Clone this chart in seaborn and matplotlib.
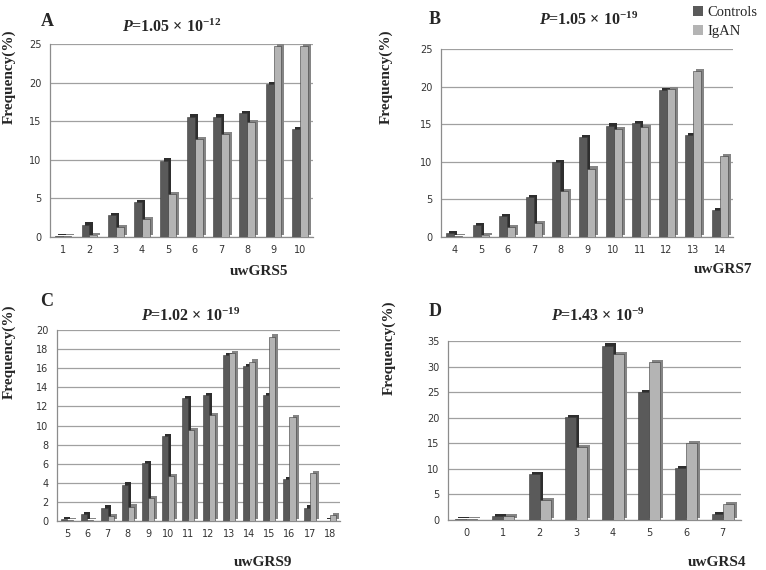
import numpy as np
import pandas as pd
import matplotlib
matplotlib.use("Agg")
import matplotlib.pyplot as plt
import matplotlib.patheffects as pe
from matplotlib.patches import Patch
import seaborn as sns

# ---------------- data ----------------
groups = ["Controls", "IgAN"]

a_scores = [1, 2, 3, 4, 5, 6, 7, 8, 9, 10]
a_controls = [0.1, 1.6, 2.8, 4.5, 9.9, 15.6, 15.6, 16.0, 19.8, 14.0]
a_igan = [0.1, 0.2, 1.3, 2.3, 5.6, 12.7, 13.3, 14.9, 24.8, 24.7]

b_scores = [4, 5, 6, 7, 8, 9, 10, 11, 12, 13, 14]
b_controls = [0.5, 1.6, 2.8, 5.3, 10.0, 13.3, 14.8, 15.1, 19.5, 13.5, 3.6]
b_igan = [0.1, 0.2, 1.3, 1.8, 6.1, 9.1, 14.3, 14.6, 19.7, 22.1, 10.8]

c_scores = [5, 6, 7, 8, 9, 10, 11, 12, 13, 14, 15, 16, 17, 18]
c_controls = [0.2, 0.7, 1.4, 3.8, 6.1, 8.9, 12.9, 13.2, 17.4, 16.2, 13.2, 4.4, 1.4, 0.05]
c_igan = [0.1, 0.1, 0.5, 1.5, 2.4, 4.7, 9.5, 11.1, 17.6, 16.7, 19.3, 10.9, 5.0, 0.6]

d_scores = [0, 1, 2, 3, 4, 5, 6, 7]
d_controls = [0.1, 0.8, 8.9, 20.1, 34.1, 25.0, 10.2, 1.2]
d_igan = [0.1, 0.8, 3.9, 14.2, 32.5, 30.8, 15.1, 3.1]

panel_letters = ["A", "B", "C", "D"]
x_labels = ["uwGRS5", "uwGRS7", "uwGRS9", "uwGRS4"]
p_mant = ["1.05", "1.05", "1.02", "1.43"]
p_exp = ["-12", "-19", "-19", "-9"]
y_ticks = [list(range(0, 26, 5)), list(range(0, 26, 5)),
           list(range(0, 21, 2)), list(range(0, 36, 5))]

# ---------------- style ----------------
sns.set_theme(style="white")
plt.rcParams["mathtext.fontset"] = "custom"
plt.rcParams["mathtext.rm"] = "Liberation Serif:bold"
plt.rcParams["mathtext.bf"] = "Liberation Serif:bold"
plt.rcParams["mathtext.it"] = "Liberation Serif:bold:italic"

col_dark = "#5a5a5a"
col_light = "#b4b4b4"
side_dark = "#2e2e2e"
side_light = "#858585"
palette = {"Controls": col_dark, "IgAN": col_light}
serif = "Liberation Serif"

W, H = 766, 570
fig = plt.figure(figsize=(W / 100, H / 100), dpi=100)


def fx(px):
    return px / W


def fy(py):
    return 1 - py / H


# axes boxes in pixel coords: left, top, right, bottom
boxes = [(50, 44, 313, 237), (441, 49, 733, 237),
         (57, 330, 340, 521), (448, 341, 741, 520)]
ylab_pos = [(9, 77), (386, 77), (9, 352), (389, 348)]
title_pos = [(172, 27), (589, 20), (191, 316), (598, 316)]
letter_pos = [(47, 22), (435, 20), (47, 302), (435, 311)]
xlab_pos = [(259, 272), (723, 270), (263, 563), (717, 563)]

datasets = [(a_scores, a_controls, a_igan), (b_scores, b_controls, b_igan),
            (c_scores, c_controls, c_igan), (d_scores, d_controls, d_igan)]

for i, (scores, ctrl, igan) in enumerate(datasets):
    l, t, r, b = boxes[i]
    ax = fig.add_axes([fx(l), fy(b), fx(r) - fx(l), fy(t) - fy(b)])
    df = pd.DataFrame({
        "score": [str(s) for s in scores] * 2,
        "freq": list(ctrl) + list(igan),
        "group": ["Controls"] * len(scores) + ["IgAN"] * len(scores),
    })
    sns.barplot(data=df, x="score", y="freq", hue="group", hue_order=groups,
                order=[str(s) for s in scores], palette=palette, width=0.6,
                ax=ax, legend=False, saturation=1, edgecolor="#3a3a3a",
                linewidth=0.4, zorder=3)
    n = len(scores)
    for k, patch in enumerate(ax.patches):
        side = side_dark if k < n else side_light
        patch.set_path_effects([
            pe.SimplePatchShadow(offset=(2.2, 1.6), shadow_rgbFace=side, alpha=1.0),
            pe.Normal()])
    ticks = y_ticks[i]
    ax.set_ylim(0, ticks[-1])
    ax.set_xlim(-0.5, n - 0.5)
    ax.set_yticks(ticks)
    ax.set_yticklabels([str(v) for v in ticks], fontsize=7, color="#333333")
    ax.tick_params(axis="x", which="major", length=0, labelsize=7,
                   labelcolor="#333333", pad=6)
    ax.set_xticks(np.arange(n + 1) - 0.5, minor=True)
    ax.tick_params(axis="x", which="minor", length=4, color="#888888",
                   width=0.8, direction="out")
    ax.tick_params(axis="y", length=3, color="#888888", width=0.8, pad=3)
    ax.yaxis.grid(True, color="#a0a0a0", linewidth=0.9, zorder=0)
    ax.set_axisbelow(True)
    for s in ["top", "right"]:
        ax.spines[s].set_visible(False)
    for s in ["left", "bottom"]:
        ax.spines[s].set_color("#8c8c8c")
        ax.spines[s].set_linewidth(0.9)
    ax.set_xlabel("")
    ax.set_ylabel("")

    xp, yp = ylab_pos[i]
    fig.text(fx(xp), fy(yp), "Frequency(%)", rotation=90, ha="center",
             va="center", fontsize=11, fontweight="bold", family=serif)
    xp, yp = title_pos[i]
    fig.text(fx(xp), fy(yp),
             r"$\mathit{P}$=" + p_mant[i] + r" × 10$^{" + p_exp[i] + "}$",
             ha="center", va="center", fontsize=11.5, fontweight="bold",
             family=serif)
    xp, yp = letter_pos[i]
    fig.text(fx(xp), fy(yp), panel_letters[i], ha="center", va="center",
             fontsize=13, fontweight="bold", family=serif)
    xp, yp = xlab_pos[i]
    fig.text(fx(xp), fy(yp), x_labels[i], ha="center", va="center",
             fontsize=11, fontweight="bold", family=serif)

handles = [Patch(facecolor=col_dark, edgecolor="none", label="Controls"),
           Patch(facecolor=col_light, edgecolor="none", label="IgAN")]
fig.legend(handles=handles, loc="upper right", bbox_to_anchor=(1.0, 1.005),
           frameon=False, prop={"family": serif, "size": 10.5},
           handlelength=0.7, handleheight=0.7, handletextpad=0.3,
           labelspacing=0.4, borderaxespad=0.2)

fig.savefig("out.png", dpi=100, facecolor="white")
